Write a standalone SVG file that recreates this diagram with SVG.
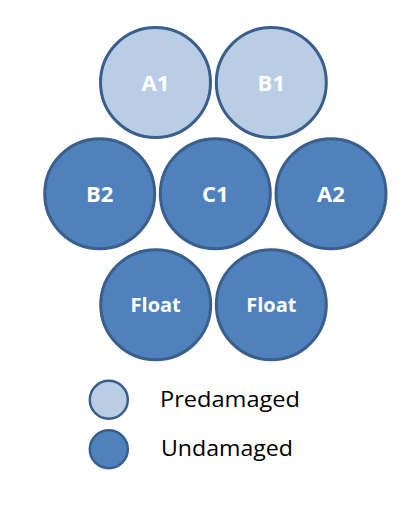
<svg xmlns="http://www.w3.org/2000/svg" width="410" height="509" viewBox="0 0 410 509">
<style>
.pre{fill:#B9CDE5;stroke:#3A5F8C;stroke-width:3}
.und{fill:#4F81BD;stroke:#3A5F8C;stroke-width:3}
.lbl{font-family:"Open Sans","Liberation Sans",Arial,sans-serif;font-weight:bold;fill:#FFFFFF;text-anchor:middle;font-size:22px}
.fl{font-size:20px}
.leg{font-family:"Open Sans","Liberation Sans",Arial,sans-serif;fill:#000000;font-size:21px}
</style>
<rect width="410" height="509" fill="#FFFFFF"/>
<g id="A1"><circle class="pre" cx="155.5" cy="82.5" r="55"/><text class="lbl" x="155.5" y="91">A1</text></g>
<g id="B1"><circle class="pre" cx="271.3" cy="82.5" r="55"/><text class="lbl" x="271.3" y="91">B1</text></g>
<g id="B2"><circle class="und" cx="99.7" cy="193.7" r="55"/><text class="lbl" x="99.7" y="201.5">B2</text></g>
<g id="C1"><circle class="und" cx="215.3" cy="193.7" r="55"/><text class="lbl" x="215.3" y="201.5">C1</text></g>
<g id="A2"><circle class="und" cx="331" cy="193.7" r="55"/><text class="lbl" x="331" y="201.5">A2</text></g>
<g id="Float1"><circle class="und" cx="155.7" cy="304.7" r="55"/><text class="lbl fl" x="155.7" y="311.5">Float</text></g>
<g id="Float2"><circle class="und" cx="271.3" cy="304.7" r="55"/><text class="lbl fl" x="271.3" y="311.5">Float</text></g>
<g id="legend-pre"><circle cx="108.8" cy="399.7" r="19" fill="#B9CDE5" stroke="#3A5F8C" stroke-width="2.5"/><text class="leg" x="160" y="406.7" textLength="140" lengthAdjust="spacingAndGlyphs">Predamaged</text></g>
<g id="legend-und"><circle cx="108.8" cy="449.3" r="19" fill="#4F81BD" stroke="#3A5F8C" stroke-width="2.5"/><text class="leg" x="161" y="456" textLength="132" lengthAdjust="spacingAndGlyphs">Undamaged</text></g>
<g id="connectors"/>
</svg>
